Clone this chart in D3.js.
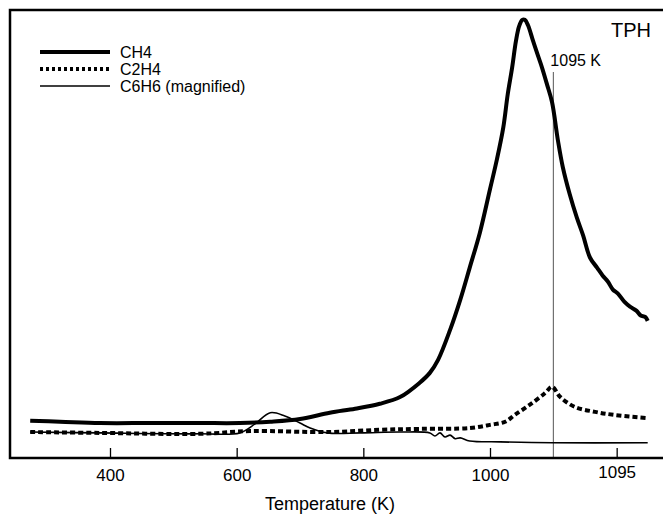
<!DOCTYPE html>
<html><head><meta charset="utf-8">
<script src="https://cdn.jsdelivr.net/npm/d3@7"></script>
<style>body{margin:0;background:#fff}svg{display:block}</style>
</head><body>
<svg id="c" width="663" height="521"></svg>
<script>
// ---- data (arbitrary intensity units) ----
const ch4T = [274,321,384,463,542,605,653,700,747,787,826,858,889,905,918,937,953,968,984,1000,1011,1021,1028,1035,1041,1046,1051,1055,1060,1068,1076,1082,1090,1098,1107,1115,1126,1137,1147,1158,1169,1178,1186,1194,1202,1212,1221,1231,1238,1245,1249];
const ch4V = [8.3,8.1,7.8,7.8,7.8,7.8,8.1,8.7,10.1,11.0,12.1,13.6,16.8,19.0,21.9,28.6,35.3,42.5,50.3,60.0,66.7,73.8,81.2,87.2,93.1,96.4,97.8,97.8,96.6,93.1,89.7,87.2,83.4,79.4,71.1,64.9,58.8,53.7,49.7,44.7,42.5,40.7,39.4,37.6,36.7,34.9,33.8,32.9,31.8,31.5,30.6];

const c2h4T = [274,384,542,621,747,826,889,968,1000,1024,1039,1063,1087,1098,1111,1134,1166,1197,1249];
const c2h4V = [5.8,5.6,5.4,6.0,5.8,6.3,6.5,6.7,7.4,8.1,9.6,11.9,14.5,15.9,13.6,11.4,10.3,9.6,8.9];

const c6h6T = [274,384,542,605,629,653,676,700,716,743,795,858,905,913,921,929,937,945,953,968,1016,1099,1249];
const c6h6V = [5.8,5.6,5.4,5.6,7.6,10.1,9.4,7.8,6.7,5.6,5.6,5.8,5.6,4.9,5.6,4.7,5.1,4.3,4.5,3.8,3.6,3.4,3.4];

const seriesNames = ["CH4","C2H4","C6H6 (magnified)"];
const tickValues = [400,600,800,1000,1200];
const tickLabels = ["400","600","800","1000","1095"];
const markerT = 1100;
const markerLabel = "1095 K";
const panelLabel = "TPH";
const xTitle = "Temperature (K)";

(function(){
// ---- layout ----
const pLeft = 10, pTop = 10, pBottom = 458, pRight = 663;
const svg = d3.select("#c");
const font = "'Liberation Sans', Arial, Helvetica, sans-serif";

const x = d3.scaleLinear().domain([400,1000]).range([110,490]);
const y = d3.scaleLinear().domain([0,100]).range([pBottom, pTop]);

const line = d3.line().x(d=>x(d[0])).y(d=>y(d[1])).curve(d3.curveCatmullRom.alpha(0.5));
const zip = (a,b)=>a.map((t,i)=>[t,b[i]]);

// marker line
svg.append("line").attr("x1",x(markerT)).attr("x2",x(markerT))
  .attr("y1",72).attr("y2",pBottom).attr("stroke","#555").attr("stroke-width",1);

// series
svg.append("path").attr("d",line(zip(c6h6T,c6h6V))).attr("fill","none")
  .attr("stroke","#000").attr("stroke-width",1.6);
svg.append("path").attr("d",line(zip(c2h4T,c2h4V))).attr("fill","none")
  .attr("stroke","#000").attr("stroke-width",4).attr("stroke-dasharray","5,3");
svg.append("path").attr("d",line(zip(ch4T,ch4V))).attr("fill","none")
  .attr("stroke","#000").attr("stroke-width",4).attr("stroke-linejoin","round");

// axis
const ax = svg.append("g").attr("transform",`translate(0,${pBottom})`)
  .call(d3.axisBottom(x).tickValues(tickValues).tickFormat((d,i)=>tickLabels[i])
    .tickSizeInner(-10).tickSizeOuter(0).tickPadding(11));
ax.select(".domain").remove();
ax.selectAll(".tick line").attr("stroke","#000").attr("stroke-width",1.3);
ax.selectAll(".tick text").attr("font-family",font).attr("font-size",17).attr("fill","#000");
ax.selectAll(".tick text").filter((d,i)=>i===tickValues.length-1).attr("y",8);

// frame (left, top, bottom)
svg.append("path").attr("d",`M${pRight},${pTop}H${pLeft}V${pBottom}H${pRight}`)
  .attr("fill","none").attr("stroke","#000").attr("stroke-width",2.5);

// axis title
svg.append("text").attr("x",330).attr("y",510).attr("text-anchor","middle")
  .attr("font-family",font).attr("font-size",18).text(xTitle);

// labels
svg.append("text").attr("x",651).attr("y",37).attr("text-anchor","end")
  .attr("font-family",font).attr("font-size",20).text(panelLabel);
svg.append("text").attr("x",x(markerT)-3).attr("y",66)
  .attr("font-family",font).attr("font-size",16).text(markerLabel);

// legend
const legY = [52,69,86];
const styles = [{w:4,d:null},{w:4,d:"3,3"},{w:1.6,d:null}];
seriesNames.forEach((n,i)=>{
  svg.append("line").attr("x1",40).attr("x2",110).attr("y1",legY[i]).attr("y2",legY[i])
    .attr("stroke","#000").attr("stroke-width",styles[i].w)
    .attr("stroke-dasharray",styles[i].d);
  svg.append("text").attr("x",120).attr("y",legY[i]).attr("dy","0.35em")
    .attr("font-family",font).attr("font-size",16).text(n);
});
})();
</script>
</body></html>
